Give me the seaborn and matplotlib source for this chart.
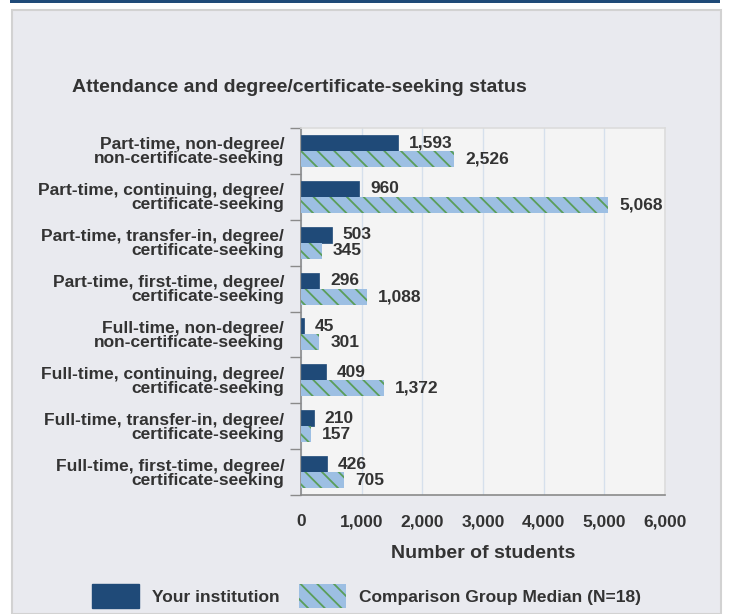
import numpy as np
import pandas as pd
import matplotlib
matplotlib.use("Agg")
import matplotlib.pyplot as plt
from matplotlib.patches import Patch, Rectangle
import seaborn as sns

# Data
categories = [
    "Part-time, non-degree/\nnon-certificate-seeking",
    "Part-time, continuing, degree/\ncertificate-seeking",
    "Part-time, transfer-in, degree/\ncertificate-seeking",
    "Part-time, first-time, degree/\ncertificate-seeking",
    "Full-time, non-degree/\nnon-certificate-seeking",
    "Full-time, continuing, degree/\ncertificate-seeking",
    "Full-time, transfer-in, degree/\ncertificate-seeking",
    "Full-time, first-time, degree/\ncertificate-seeking",
]
your_institution = [1593, 960, 503, 296, 45, 409, 210, 426]
comparison_median = [2526, 5068, 345, 1088, 301, 1372, 157, 705]
series_names = ["Your institution", "Comparison Group Median (N=18)"]
x_ticks = [0, 1000, 2000, 3000, 4000, 5000, 6000]

df = pd.DataFrame({
    "category": categories * 2,
    "value": your_institution + comparison_median,
    "series": [series_names[0]] * len(categories) + [series_names[1]] * len(categories),
})

dark = "#1f4a78"
light = "#9dbfe3"
hatch_green = "#5a9e5a"
text_col = "#333333"
panel_col = "#e9eaef"

sns.set_theme(style="white")
plt.rcParams["font.family"] = ["Liberation Sans", "DejaVu Sans"]
plt.rcParams["hatch.linewidth"] = 1.3

fig = plt.figure(figsize=(7.29, 6.14), dpi=100)
fig.patch.set_facecolor("white")

# outer panel and top rule
fig.patches.append(Rectangle((12 / 729, 0), 709 / 729, 1 - 10 / 614, transform=fig.transFigure,
                             facecolor=panel_col, edgecolor="#d2d2d2", linewidth=1.5, zorder=-10))
fig.patches.append(Rectangle((10 / 729, 1 - 3 / 614), 710 / 729, 3 / 614, transform=fig.transFigure,
                             facecolor="#1f4a78", edgecolor="none", zorder=-10))

ax = fig.add_axes([301 / 729, 1 - 495 / 614, 364 / 729, 367 / 614])
ax.set_facecolor("#f4f4f4")

sns.barplot(data=df, y="category", x="value", hue="series", orient="h",
            palette=[dark, light], width=0.7, saturation=1, legend=False, ax=ax, zorder=3)

for patch in ax.containers[1]:
    patch.set_hatch("\\\\")
    patch.set_edgecolor(hatch_green)
    patch.set_linewidth(0)
for patch in ax.containers[0]:
    patch.set_edgecolor(dark)
    patch.set_linewidth(0.5)

for cont in ax.containers:
    ax.bar_label(cont, labels=[f"{int(v):,}" for v in cont.datavalues], padding=8,
                 fontsize=12.5, fontweight="bold", color=text_col)

ax.set_xlim(0, 6000)
ax.set_ylim(len(categories) - 0.5, -0.5)
ax.set_xticks(x_ticks)
ax.set_xticklabels([f"{t:,}" for t in x_ticks], fontsize=12.5, fontweight="bold", color=text_col)
ax.tick_params(axis="x", length=0, pad=14)
ax.xaxis.grid(True, color="#d6e0ec", linewidth=1, zorder=0)
ax.set_axisbelow(True)

ax.set_yticks(range(len(categories)))
ax.set_yticklabels(categories, fontsize=12.5, fontweight="bold", color=text_col, linespacing=0.92)
ax.set_yticks(np.arange(-0.5, len(categories), 1), minor=True)
ax.tick_params(axis="y", which="major", length=0, pad=12)
ax.tick_params(axis="y", which="minor", length=8, width=1, color="#8a8a8a", left=True)

ax.set_ylabel("")
ax.set_xlabel("Number of students", fontsize=14, fontweight="bold", color=text_col, labelpad=11)

for side in ["left", "bottom"]:
    ax.spines[side].set_color("#8a8a8a")
    ax.spines[side].set_linewidth(1.2)
for side in ["top", "right"]:
    ax.spines[side].set_color("#dcdcdc")
    ax.spines[side].set_linewidth(1.2)

fig.text(72 / 729, 1 - 88 / 614, "Attendance and degree/certificate-seeking status",
         fontsize=14, fontweight="bold", color=text_col, va="center", ha="left")

handles = [Patch(facecolor=dark, edgecolor=dark, label=series_names[0]),
           Patch(facecolor=light, edgecolor=hatch_green, linewidth=0, hatch="\\\\", label=series_names[1])]
leg = fig.legend(handles=handles, loc="center left", bbox_to_anchor=(76 / 729, 1 - 596 / 614),
                 ncol=2, frameon=False, handlelength=2.7, handleheight=1.7, handletextpad=0.75,
                 columnspacing=1.15, prop={"size": 12.5, "weight": "bold"})
for t in leg.get_texts():
    t.set_color(text_col)

fig.savefig("out.png", dpi=100)
